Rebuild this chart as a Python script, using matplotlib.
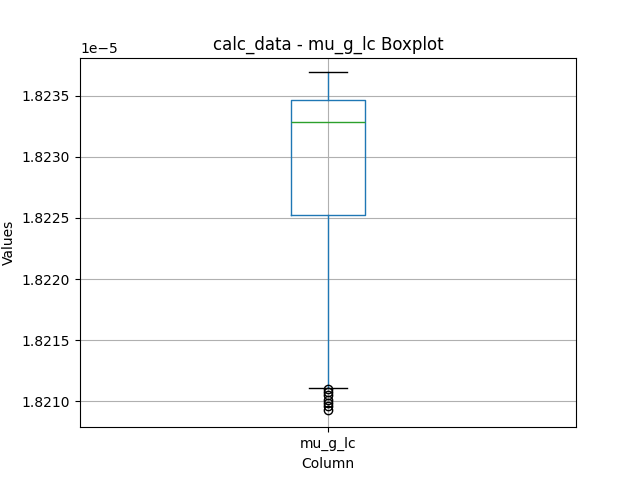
import matplotlib
matplotlib.use("Agg")
import matplotlib.pyplot as plt

label = "mu_g_lc"
whislo = 1.82111e-5
q1 = 1.82252e-5
med = 1.82328e-5
q3 = 1.82346e-5
whishi = 1.82369e-5
fliers = [1.82110e-5, 1.82108e-5, 1.82105e-5, 1.82101e-5, 1.82099e-5, 1.82096e-5, 1.82093e-5]

stats = [dict(label=label, whislo=whislo, q1=q1, med=med, q3=q3, whishi=whishi, fliers=fliers)]

fig, ax = plt.subplots(figsize=(6.4, 4.8), dpi=100)
ax.bxp(stats, widths=0.15,
       boxprops=dict(color="C0"),
       whiskerprops=dict(color="C0"),
       medianprops=dict(color="C2"),
       capprops=dict(color="black"),
       flierprops=dict(marker="o", markeredgecolor="black", markerfacecolor="none"))
ax.set_xlim(0.5, 1.5)
ax.set_ylim(1.82079e-5, 1.82381e-5)
ax.grid(True)
ax.set_title("calc_data - mu_g_lc Boxplot")
ax.set_xlabel("Column")
ax.set_ylabel("Values")
fig.savefig("out.png")
